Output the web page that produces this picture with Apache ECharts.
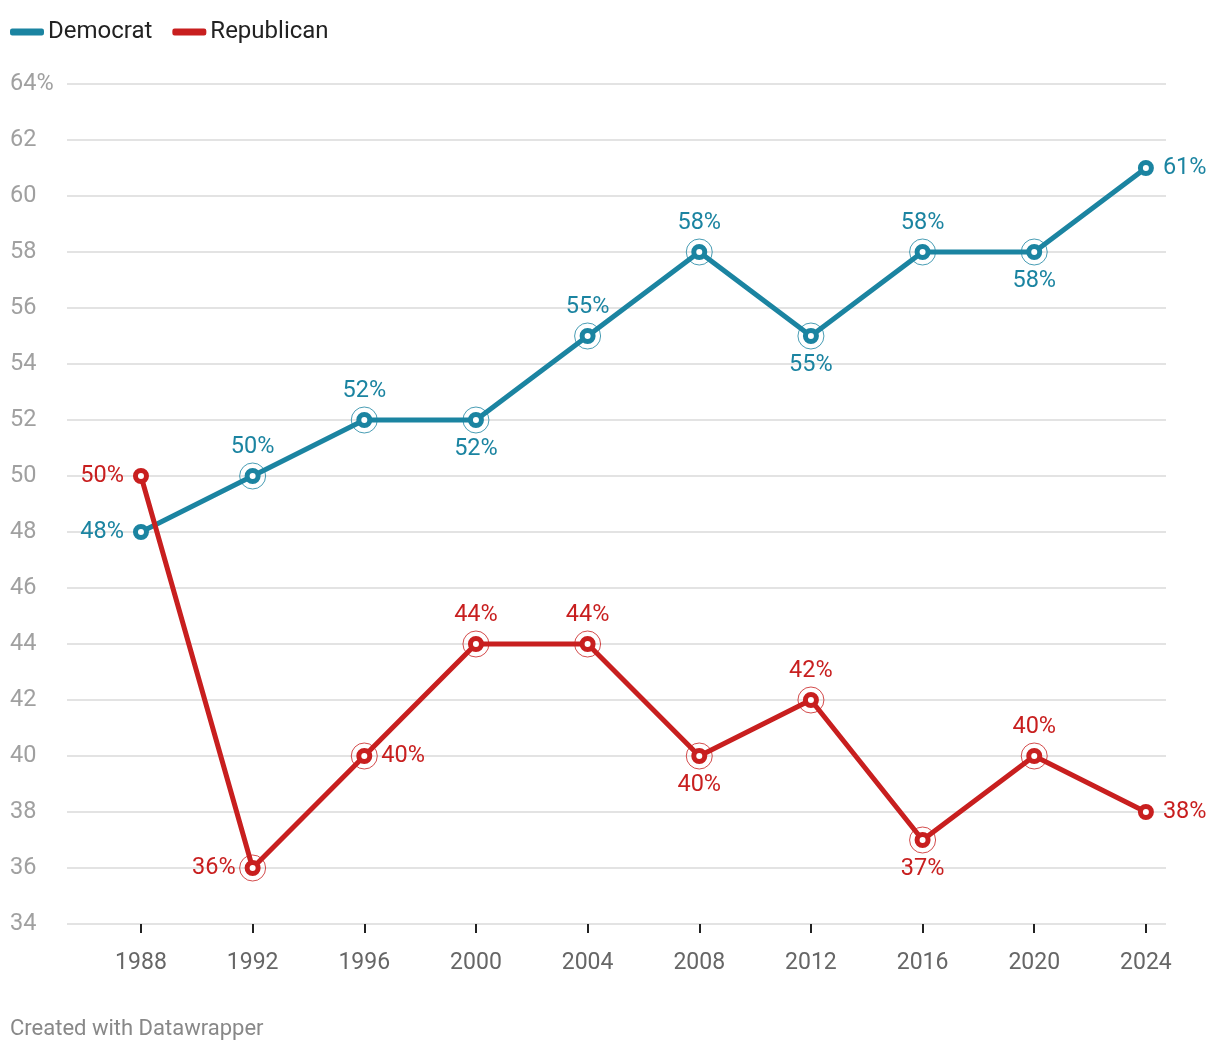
<!DOCTYPE html>
<html>
<head>
<meta charset="utf-8">
<script src="https://cdn.jsdelivr.net/npm/echarts@6/dist/echarts.min.js"></script>
<style>
html,body{margin:0;padding:0;background:#fff;}
#chart{width:1220px;height:1050px;}
</style>
</head>
<body>
<div id="chart"></div>
<script>
const years = [1988, 1992, 1996, 2000, 2004, 2008, 2012, 2016, 2020, 2024];
const democrat = [48, 50, 52, 52, 55, 58, 55, 58, 58, 61];
const republican = [50, 36, 40, 44, 44, 40, 42, 37, 40, 38];
const demLabelPos = ['left','top','top','bottom','top','top','bottom','top','bottom','right'];
const repLabelPos = ['left','left','right','top','top','bottom','top','bottom','top','right'];

const DEM = '#1b84a1';
const REP = '#c81f1f';
const FONT = 'Roboto, "Noto Sans", sans-serif';

function lineData(vals, pos) {
  return years.map((y, i) => ({
    value: [y, vals[i]],
    label: { position: pos[i] }
  }));
}
function ringData(vals) {
  return years.map((y, i) => [y, vals[i]]).slice(1, years.length - 1);
}
function lineSeries(name, vals, pos, color) {
  return {
    name: name, type: 'line', data: lineData(vals, pos),
    symbol: 'circle', symbolSize: 11, showAllSymbol: true,
    lineStyle: { color: color, width: 5 },
    itemStyle: { color: '#fff', borderColor: color, borderWidth: 5 },
    label: {
      show: true, color: color, fontSize: 23.5, fontFamily: FONT, distance: 9,
      formatter: p => p.value[1] + '%'
    },
    emphasis: { disabled: true },
    z: 3
  };
}
function ringSeries(vals, color) {
  return {
    type: 'scatter', data: ringData(vals), symbol: 'circle', symbolSize: 26,
    itemStyle: { color: 'rgba(255,255,255,0)', borderColor: color, borderWidth: 1 },
    silent: true, z: 2
  };
}

const chart = echarts.init(document.getElementById('chart'), null, { renderer: 'canvas' });
chart.setOption({
  animation: false,
  backgroundColor: '#fff',
  textStyle: { fontFamily: FONT },
  legend: {
    data: [
      { name: 'Democrat', itemStyle: { color: DEM } },
      { name: 'Republican', itemStyle: { color: REP } }
    ],
    left: 10, top: 20, padding: 0, icon: 'roundRect', itemWidth: 32, itemHeight: 5, itemGap: 20,
    textStyle: { fontSize: 24, color: '#222', fontFamily: FONT }
  },
  grid: { left: 67, right: 54, top: 84, bottom: 126, containLabel: false },
  xAxis: {
    type: 'value', min: 1985.35, max: 2024.72,
    axisLine: { show: false },
    splitLine: { show: false },
    axisTick: { show: true, customValues: years, length: 9, lineStyle: { color: '#222', width: 2 } },
    axisLabel: { show: true, customValues: years, color: '#666', fontSize: 23, fontFamily: FONT, margin: 28, formatter: v => String(v) }
  },
  yAxis: {
    type: 'value', min: 34, max: 64, interval: 2,
    axisLine: { show: false }, axisTick: { show: false },
    splitLine: { show: true, lineStyle: { color: '#e3e3e3', width: 2 } },
    axisLabel: {
      color: '#a0a0a0', fontSize: 23.5, fontFamily: FONT, align: 'left', margin: 57,
      padding: [4, 0, 0, 0],
      formatter: v => v === 64 ? '64%' : String(v)
    }
  },
  graphic: [{
    type: 'text', left: 10, top: 1018,
    style: { text: 'Created with Datawrapper', fill: '#888', fontSize: 22, fontFamily: FONT }
  }],
  series: [
    ringSeries(democrat, DEM),
    lineSeries('Democrat', democrat, demLabelPos, DEM),
    ringSeries(republican, REP),
    lineSeries('Republican', republican, repLabelPos, REP)
  ]
});
</script>
</body>
</html>
